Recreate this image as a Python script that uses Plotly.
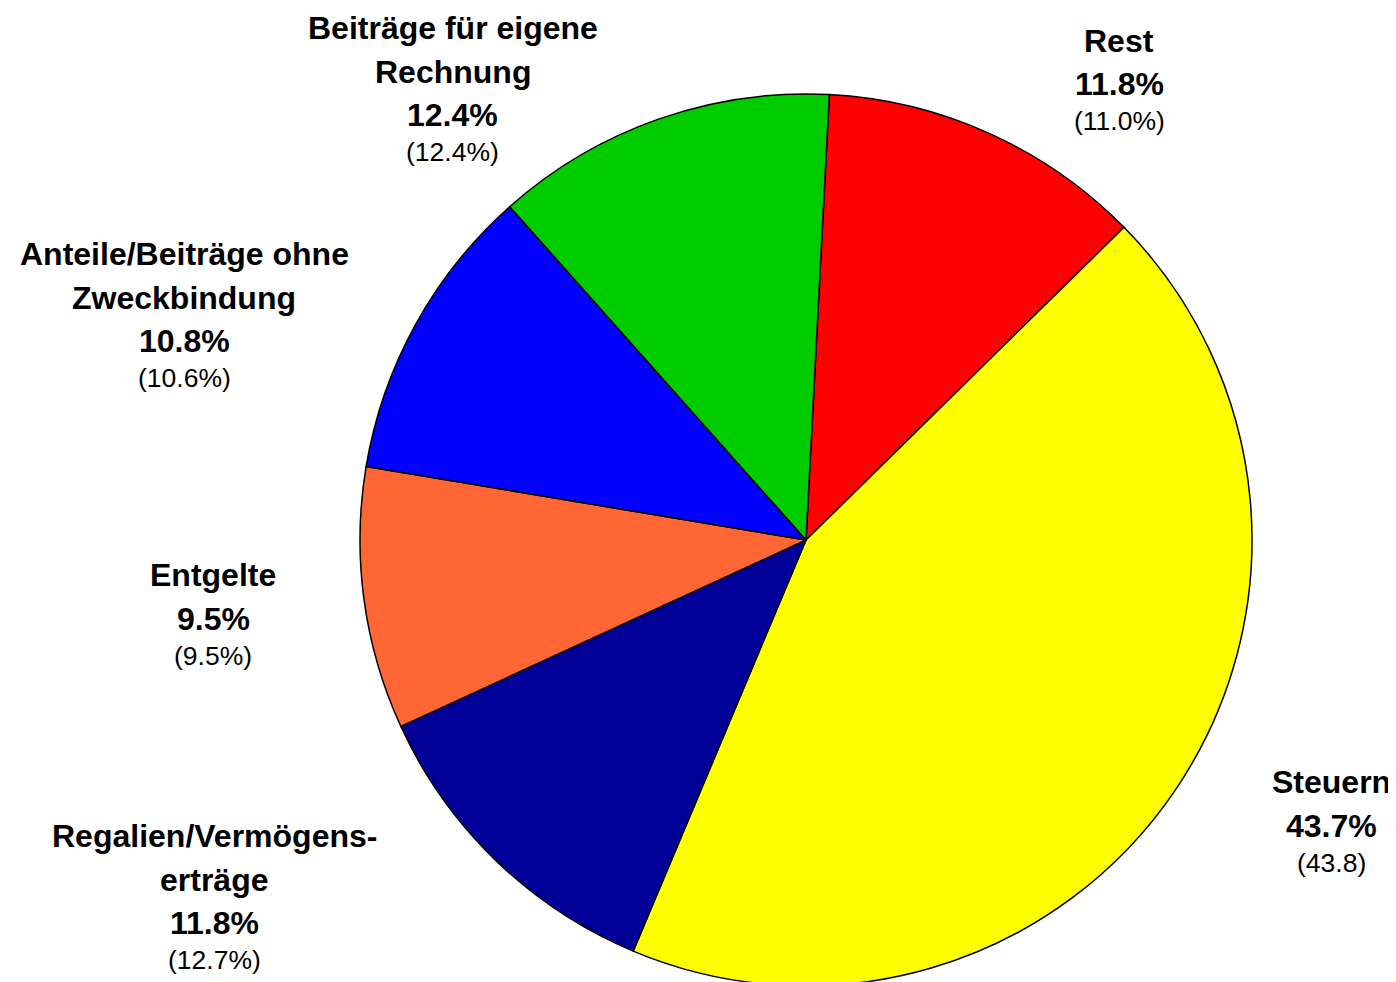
import plotly.graph_objects as go

W, H = 1396, 982
OFF = 8  # default page body margin shifts the figure by 8px

# slices, clockwise from 12 o'clock
categories = ["Rest", "Steuern", "Regalien/Vermögens-erträge", "Entgelte",
              "Anteile/Beiträge ohne Zweckbindung", "Beiträge für eigene Rechnung"]
shares = [11.8, 43.7, 11.8, 9.5, 10.8, 12.4]
prev_year = ["(11.0%)", "(43.8)", "(12.7%)", "(9.5%)", "(10.6%)", "(12.4%)"]
colors = ["#FF0000", "#FFFF00", "#000099", "#FF6633", "#0000FF", "#00CC00"]

# how each label is broken into lines
label_lines = [
    ["Rest"],
    ["Steuern"],
    ["Regalien/Vermögens-", "erträge"],
    ["Entgelte"],
    ["Anteile/Beiträge ohne", "Zweckbindung"],
    ["Beiträge für eigene", "Rechnung"],
]
# label block anchor (pixel centre x, first line y) in screen pixels
label_pos = [(1119, 41), (1331, 782), (214, 836), (213, 575), (184, 254), (453, 28)]

cx, cy, r = 806 - OFF, 540 - OFF, 446

fig = go.Figure()
fig.add_trace(go.Pie(
    labels=categories,
    values=shares,
    sort=False,
    direction="clockwise",
    rotation=3,
    textinfo="none",
    hoverinfo="label+percent",
    marker=dict(colors=colors, line=dict(color="black", width=1.5)),
    domain=dict(x=[(cx - r) / W, (cx + r) / W],
                y=[(H - cy - r) / H, (H - cy + r) / H]),
    showlegend=False,
))

FONT = "Liberation Sans, Arial, sans-serif"
annotations = []
for lines, pct, prev, (px, py) in zip(label_lines, shares, prev_year, label_pos):
    x = (px - OFF) / W
    y = py - OFF
    for ln in lines + [f"{pct:.1f}%"]:
        annotations.append(dict(x=x, y=1 - y / H, xref="paper", yref="paper",
                                text=f"<b>{ln}</b>", showarrow=False,
                                xanchor="center", yanchor="middle",
                                font=dict(family=FONT, size=32, color="black")))
        y += 43.5
    y -= 6.5
    annotations.append(dict(x=x, y=1 - y / H, xref="paper", yref="paper",
                            text=prev, showarrow=False,
                            xanchor="center", yanchor="middle",
                            font=dict(family=FONT, size=26.5, color="black")))

fig.update_layout(
    width=W, height=H,
    margin=dict(l=0, r=0, t=0, b=0),
    paper_bgcolor="white",
    plot_bgcolor="white",
    annotations=annotations,
)

fig.write_html("out.html")
